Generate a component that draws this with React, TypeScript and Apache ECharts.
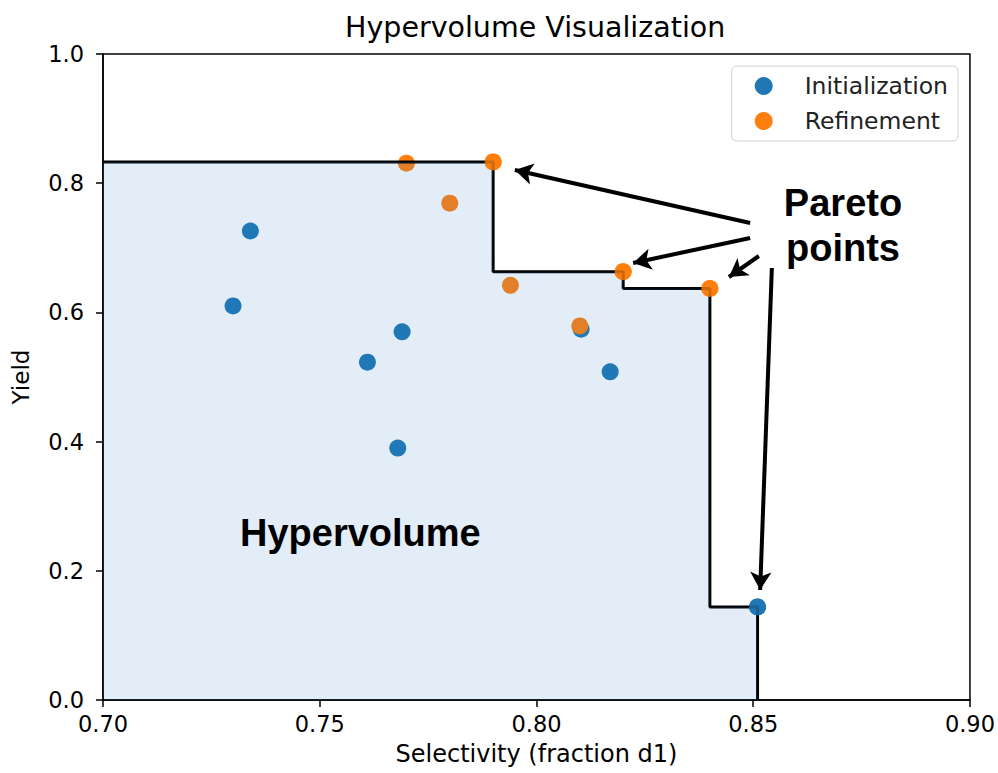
import React, { useEffect, useRef } from "react";
import * as echarts from "echarts";

// Initialization points (blue)
const initX = [0.734, 0.730, 0.769, 0.761, 0.768, 0.8103, 0.817, 0.851];
const initY = [0.726, 0.610, 0.570, 0.523, 0.390, 0.574, 0.508, 0.144];
// Refinement points (orange)
const refX = [0.770, 0.790, 0.780, 0.794, 0.810, 0.820, 0.840];
const refY = [0.831, 0.833, 0.769, 0.642, 0.579, 0.663, 0.637];
// Pareto front points, sorted by selectivity
const paretoX = [0.790, 0.820, 0.840, 0.851];
const paretoY = [0.833, 0.663, 0.637, 0.144];
const paretoSet = ["Refinement", "Refinement", "Refinement", "Initialization"];

const xTicks = { min: 0.7, max: 0.9, interval: 0.05 };
const yTicks = { min: 0, max: 1, interval: 0.2 };

// annotation arrows [tailX, tailY, headX, headY] in data units
const arrows = [
  [0.8493, 0.7384, 0.7950, 0.8204],
  [0.8493, 0.7152, 0.8223, 0.6765],
  [0.8513, 0.6873, 0.8444, 0.6548],
  [0.8543, 0.6687, 0.8516, 0.1703],
];

const BLUE = "#1f77b4";
const ORANGE = "#ff7f0e";

export default function App() {
  const ref = useRef<HTMLDivElement>(null);
  useEffect(() => {
    if (!ref.current) return;
    const chart = echarts.init(ref.current, undefined, { renderer: "svg" });

    // staircase of the Pareto front
    const stair: number[][] = [[xTicks.min, paretoY[0]]];
    for (let i = 0; i < paretoX.length; i++) {
      stair.push([paretoX[i], paretoY[i]]);
      stair.push([paretoX[i], i + 1 < paretoY.length ? paretoY[i + 1] : 0]);
    }

    const font = "DejaVu Sans";
    chart.setOption({
      animation: false,
      title: {
        text: "Hypervolume Visualization",
        left: 340,
        top: 8,
        textStyle: { fontFamily: font, fontSize: 28.5, fontWeight: "normal", color: "#000" },
      },
      legend: {
        orient: "vertical",
        right: 40,
        top: 66,
        data: ["Initialization", "Refinement"],
        icon: "circle",
        itemWidth: 18,
        itemHeight: 18,
        itemGap: 11,
        padding: [8, 10, 8, 23],
        borderColor: "#d0d0d0",
        borderWidth: 1,
        borderRadius: 5,
        textStyle: { fontFamily: font, fontSize: 23.5, color: "#222", padding: [0, 0, 0, 27] },
      },
      grid: {
        left: 103,
        right: 28,
        top: 54,
        bottom: 73,
        show: true,
        borderColor: "#000",
        borderWidth: 1.5,
        backgroundColor: "transparent",
      },
      xAxis: {
        type: "value",
        min: xTicks.min,
        max: xTicks.max,
        interval: xTicks.interval,
        name: "Selectivity (fraction d1)",
        nameLocation: "middle",
        nameGap: 42,
        nameTextStyle: { fontFamily: font, fontSize: 24, color: "#000" },
        axisLine: { show: true, lineStyle: { color: "#000", width: 1.5 } },
        axisTick: { show: true, inside: false, length: 7, lineStyle: { color: "#000", width: 1.5 } },
        axisLabel: {
          fontFamily: font,
          fontSize: 22.5,
          color: "#000",
          margin: 12,
          formatter: (v: number) => v.toFixed(2),
        },
        splitLine: { show: false },
      },
      yAxis: {
        type: "value",
        min: yTicks.min,
        max: yTicks.max,
        interval: yTicks.interval,
        name: "Yield",
        nameLocation: "middle",
        nameRotate: 90,
        nameGap: 71,
        nameTextStyle: { fontFamily: font, fontSize: 23, color: "#000" },
        axisLine: { show: true, lineStyle: { color: "#000", width: 1.5 } },
        axisTick: { show: true, inside: false, length: 7, lineStyle: { color: "#000", width: 1.5 } },
        axisLabel: {
          fontFamily: font,
          fontSize: 22.5,
          color: "#000",
          margin: 19,
          formatter: (v: number) => v.toFixed(1),
        },
        splitLine: { show: false },
      },
      series: [
        {
          name: "Initialization",
          type: "scatter",
          symbolSize: 17,
          itemStyle: { color: BLUE, opacity: 1 },
          data: initX.map((x, i) => [x, initY[i]]),
          z: 2,
        },
        {
          name: "Refinement",
          type: "scatter",
          symbolSize: 17,
          itemStyle: { color: ORANGE, opacity: 1 },
          data: refX.map((x, i) => [x, refY[i]]),
          z: 2,
        },
        {
          name: "front",
          type: "line",
          data: stair,
          showSymbol: false,
          symbol: "none",
          lineStyle: { color: "#000", width: 3 },
          z: 3,
        },
        {
          name: "hypervolume",
          type: "line",
          data: stair,
          showSymbol: false,
          symbol: "none",
          lineStyle: { width: 0, opacity: 0 },
          areaStyle: { color: "rgba(50,130,200,0.2)", origin: "start" },
          z: 4,
        },
        {
          name: "paretoTop",
          type: "scatter",
          symbolSize: 17,
          data: paretoX.map((x, i) => ({
            value: [x, paretoY[i]],
            itemStyle: { color: paretoSet[i] === "Refinement" ? ORANGE : BLUE },
          })),
          z: 5,
        },
        {
          name: "arrows",
          type: "line",
          data: [],
          z: 6,
          markLine: {
            silent: true,
            symbol: ["none", "arrow"],
            symbolSize: [16, 18],
            label: { show: false },
            lineStyle: { color: "#000", width: 4, type: "solid" },
            data: arrows.map((a) => [
              { coord: [a[0], a[1]] },
              { coord: [a[2], a[3]] },
            ]),
          },
        },
      ],
      graphic: [
        {
          type: "text",
          left: 240,
          top: 514,
          style: {
            text: "Hypervolume",
            fontFamily: "Liberation Sans",
            fontWeight: "bold",
            fontSize: 38,
            fill: "#000",
          },
          z: 10,
        },
        {
          type: "text",
          x: 843,
          y: 180,
          style: {
            text: "Pareto\npoints",
            fontFamily: "Liberation Sans",
            fontWeight: "bold",
            fontSize: 38,
            lineHeight: 45,
            align: "center",
            fill: "#000",
          },
          z: 10,
        },
      ],
    });
    return () => chart.dispose();
  }, []);
  return (
    <div
      ref={ref}
      style={{ position: "absolute", left: 0, top: 0, width: 998, height: 773 }}
    />
  );
}
